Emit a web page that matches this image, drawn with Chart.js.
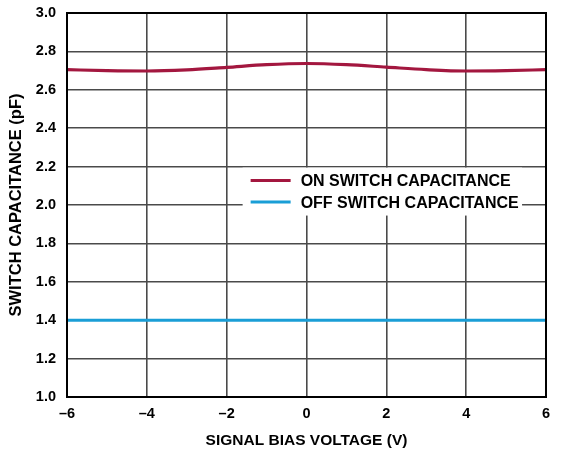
<!DOCTYPE html>
<html>
<head>
<meta charset="utf-8">
<script src="https://cdn.jsdelivr.net/npm/chart.js@4.4.0/dist/chart.umd.min.js"></script>
<style>
  html, body { margin: 0; padding: 0; background: #fff; }
  #wrap { width: 566px; height: 455px; position: relative; }
</style>
</head>
<body>
<div id="wrap"><canvas id="c" width="566" height="455"></canvas></div>
<script>
// Signal bias voltage (V)
const biasVoltage = [-6, -5, -4, -3, -2, -1, 0, 1, 2, 3, 4, 5, 6];
// Switch capacitance (pF)
const onCapacitance  = [2.705, 2.700, 2.698, 2.704, 2.717, 2.731, 2.737, 2.731, 2.718, 2.705, 2.698, 2.700, 2.705];
const offCapacitance = [1.4, 1.4, 1.4, 1.4, 1.4, 1.4, 1.4, 1.4, 1.4, 1.4, 1.4, 1.4, 1.4];
// Axis ticks
const xTicks = [-6, -4, -2, 0, 2, 4, 6];
const yTicks = [1.0, 1.2, 1.4, 1.6, 1.8, 2.0, 2.2, 2.4, 2.6, 2.8, 3.0];

const seriesLabels = ['ON SWITCH CAPACITANCE', 'OFF SWITCH CAPACITANCE'];
const seriesColors = ['#a3173f', '#1a9ed6'];

const FONT = '"Liberation Sans", Arial, sans-serif';

// Black frame round the plot area
const frame = {
  id: 'frame',
  afterDatasetsDraw(chart) {
    const { ctx, chartArea: a } = chart;
    ctx.save();
    ctx.strokeStyle = '#000';
    ctx.lineWidth = 2;
    ctx.strokeRect(a.left, a.top, a.right - a.left, a.bottom - a.top);
    ctx.restore();
  }
};

// Legend box inside the plot, on a white ground
const insetLegend = {
  id: 'insetLegend',
  afterDatasetsDraw(chart) {
    const { ctx } = chart;
    const x = chart.scales.x, y = chart.scales.y;
    const left = x.getPixelForValue(-1.6), right = x.getPixelForValue(5.4);
    const top = y.getPixelForValue(2.2) + 1, bottom = y.getPixelForValue(1.945);
    ctx.save();
    ctx.fillStyle = '#fff';
    ctx.fillRect(left, top, right - left, bottom - top);
    ctx.font = 'bold 16px ' + FONT;
    ctx.textBaseline = 'middle';
    ctx.textAlign = 'left';
    chart.data.datasets.forEach((ds, i) => {
      const ly = top + 13 + i * 21.5;
      ctx.strokeStyle = ds.borderColor;
      ctx.lineWidth = 3;
      ctx.beginPath();
      ctx.moveTo(left + 8, ly);
      ctx.lineTo(left + 48, ly);
      ctx.stroke();
      ctx.fillStyle = '#000';
      ctx.fillText(ds.label, left + 58, ly + 1);
    });
    ctx.restore();
  }
};

new Chart(document.getElementById('c'), {
  type: 'line',
  data: {
    datasets: [
      {
        label: seriesLabels[0],
        data: biasVoltage.map((v, i) => ({ x: v, y: onCapacitance[i] })),
        borderColor: seriesColors[0],
        borderWidth: 3.2,
        pointRadius: 0,
        tension: 0.4,
        cubicInterpolationMode: 'monotone'
      },
      {
        label: seriesLabels[1],
        data: biasVoltage.map((v, i) => ({ x: v, y: offCapacitance[i] })),
        borderColor: seriesColors[1],
        borderWidth: 3,
        pointRadius: 0
      }
    ]
  },
  options: {
    responsive: false,
    animation: false,
    layout: { padding: { top: 13, right: 20, left: 0, bottom: 0 } },
    plugins: { legend: { display: false }, tooltip: { enabled: false } },
    scales: {
      x: {
        type: 'linear',
        min: -6, max: 6,
        afterBuildTicks(scale) { scale.ticks = xTicks.map(v => ({ value: v })); },
        afterFit(scale) { scale.height = 58; },
        grid: { color: '#4a4a4a', lineWidth: 1.6, drawTicks: false },
        border: { display: false },
        ticks: {
          padding: 8,
          color: '#000',
          font: { family: FONT, size: 14.5, weight: 'bold' },
          callback: v => (v < 0 ? '\u2013' + Math.abs(v) : String(v))
        },
        title: {
          display: true,
          text: 'SIGNAL BIAS VOLTAGE (V)',
          color: '#000',
          font: { family: FONT, size: 15.5, weight: 'bold' },
          padding: { top: 0, bottom: 5 }
        }
      },
      y: {
        type: 'linear',
        min: 1.0, max: 3.0,
        afterBuildTicks(scale) { scale.ticks = yTicks.map(v => ({ value: v })); },
        afterFit(scale) {
          scale.width = 67;
          scale.paddingTop = 0;
          scale.paddingBottom = 0;
        },
        grid: { color: '#4a4a4a', lineWidth: 1.6, drawTicks: false },
        border: { display: false },
        ticks: {
          padding: 11,
          color: '#000',
          font: { family: FONT, size: 14.5, weight: 'bold' },
          callback: v => Number(v).toFixed(1)
        },
        title: {
          display: true,
          text: 'SWITCH CAPACITANCE (pF)',
          color: '#000',
          font: { family: FONT, size: 16.5, weight: 'bold' },
          padding: { top: 7, bottom: 0 }
        }
      }
    }
  },
  plugins: [insetLegend, frame]
});
</script>
</body>
</html>
